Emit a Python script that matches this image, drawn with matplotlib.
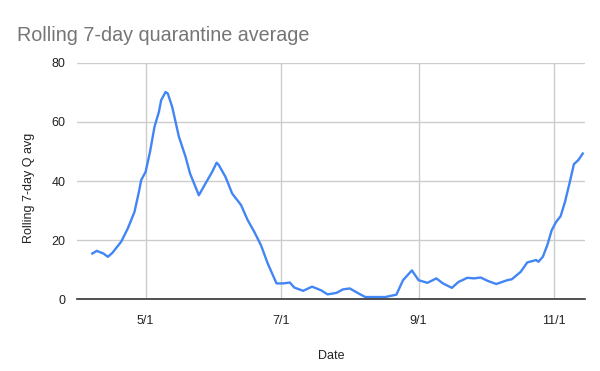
import matplotlib
matplotlib.use("Agg")
import matplotlib.pyplot as plt
import pandas as pd

dates = ["2020-04-07", "2020-04-09", "2020-04-12", "2020-04-14", "2020-04-16",
         "2020-04-20", "2020-04-23", "2020-04-26", "2020-04-28", "2020-04-29",
         "2020-05-01", "2020-05-03", "2020-05-05", "2020-05-07", "2020-05-08",
         "2020-05-10", "2020-05-11", "2020-05-13", "2020-05-16", "2020-05-19",
         "2020-05-21", "2020-05-25", "2020-05-28", "2020-05-31", "2020-06-02",
         "2020-06-03", "2020-06-06", "2020-06-09", "2020-06-13", "2020-06-16",
         "2020-06-19", "2020-06-22", "2020-06-25", "2020-06-28", "2020-06-29",
         "2020-07-02", "2020-07-05", "2020-07-07", "2020-07-11", "2020-07-15",
         "2020-07-19", "2020-07-22", "2020-07-26", "2020-07-29", "2020-08-01",
         "2020-08-05", "2020-08-08", "2020-08-17", "2020-08-22", "2020-08-25",
         "2020-08-29", "2020-09-01", "2020-09-05", "2020-09-09", "2020-09-12",
         "2020-09-16", "2020-09-19", "2020-09-23", "2020-09-26", "2020-09-29",
         "2020-10-02", "2020-10-06", "2020-10-11", "2020-10-13", "2020-10-17",
         "2020-10-20", "2020-10-24", "2020-10-25", "2020-10-27", "2020-10-29",
         "2020-10-31", "2020-11-02", "2020-11-04", "2020-11-06", "2020-11-08",
         "2020-11-10", "2020-11-12", "2020-11-14"]
values = [15.5, 16.4, 15.5, 14.4, 15.7,
          19.5, 24.0, 29.6, 36.4, 40.3,
          43.1, 49.9, 58.3, 63.4, 67.3,
          70.1, 69.6, 65.0, 55.0, 48.2,
          42.6, 35.2, 39.2, 43.1, 46.2,
          45.4, 41.4, 35.8, 31.9, 26.8,
          22.8, 18.3, 12.2, 7.1, 5.4,
          5.4, 5.7, 4.0, 2.9, 4.3,
          3.1, 1.7, 2.2, 3.4, 3.7,
          2.0, 0.8, 0.8, 1.6, 6.5,
          9.8, 6.5, 5.6, 7.1, 5.4,
          3.9, 5.9, 7.3, 7.1, 7.4,
          6.3, 5.2, 6.5, 6.8, 9.3,
          12.5, 13.3, 12.7, 14.4, 18.3,
          23.4, 26.2, 28.1, 33.0, 39.2,
          45.7, 47.1, 49.3]
x_ticks = ["2020-05-01", "2020-07-01", "2020-09-01", "2020-11-01"]
x_tick_labels = ["5/1", "7/1", "9/1", "11/1"]
y_ticks = [0, 20, 40, 60, 80]

plt.rcParams['font.family'] = ['Liberation Sans', 'DejaVu Sans']

fig = plt.figure(figsize=(6.0, 3.71), dpi=100)
ax = fig.add_axes([0.128, 0.193, 0.847, 0.638])

x = pd.to_datetime(dates)
ax.plot(x, values, color="#4285F4", linewidth=1.7, solid_joinstyle="round")

ax.set_xlim(pd.Timestamp("2020-03-31"), pd.Timestamp("2020-11-15"))
ax.set_ylim(0, 80)
ax.set_yticks(y_ticks)
ax.set_xticks(pd.to_datetime(x_ticks))
ax.set_xticklabels(x_tick_labels)

ax.grid(True, color="#cccccc", linewidth=1.0)
ax.set_axisbelow(True)
for s in ["top", "right", "left"]:
    ax.spines[s].set_visible(False)
ax.spines["bottom"].set_color("#333333")
ax.spines["bottom"].set_linewidth(1.2)
ax.tick_params(axis="both", length=0, labelsize=9, colors="#222222")
ax.tick_params(axis="x", pad=11)
ax.tick_params(axis="y", pad=8)

ax.set_xlabel("Date", fontsize=9, color="#222222", labelpad=17)
ax.set_ylabel("Rolling 7-day Q avg", fontsize=9, color="#222222")
ax.yaxis.set_label_coords(-0.082, 0.47)

fig.text(0.028, 0.903, "Rolling 7-day quarantine average", fontsize=14.2,
         color="#757575", ha="left", va="center")

fig.savefig("out.png", dpi=100)
